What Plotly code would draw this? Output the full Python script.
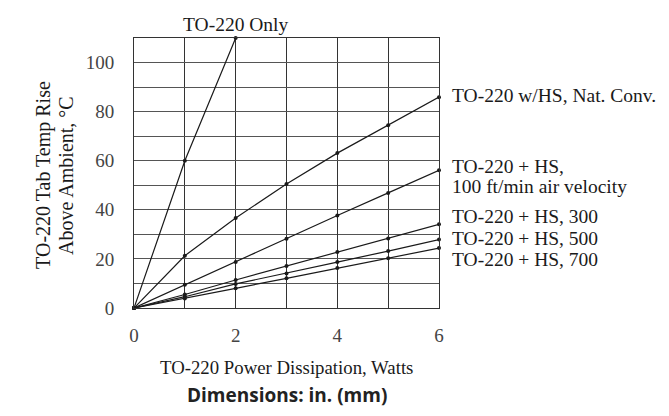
import plotly.graph_objects as go

power_w = [0, 1, 2, 3, 4, 5, 6]
to220_only_x = [0, 1, 2]
to220_only = [0, 60, 110]
nat_conv = [0, 21.3, 36.7, 50.5, 63.1, 74.5, 85.9]
hs_100 = [0, 9.5, 18.7, 28.2, 37.7, 46.9, 56.1]
hs_300 = [0, 5.5, 11.4, 17.1, 22.8, 28.3, 34.1]
hs_500 = [0, 4.6, 9.8, 14.1, 18.7, 23.2, 27.9]
hs_700 = [0, 3.9, 8.0, 12.1, 16.3, 20.3, 24.4]

series_labels = ["TO-220 w/HS, Nat. Conv.", "TO-220 + HS,", "100 ft/min air velocity",
                 "TO-220 + HS, 300", "TO-220 + HS, 500", "TO-220 + HS, 700"]
label_y = [86.4, 57.8, 49.7, 37.1, 28.5, 19.6]

x_ticks = [0, 2, 4, 6]
y_ticks = [0, 20, 40, 60, 80, 100]

SERIF = "Liberation Serif, Times New Roman, serif"
TXT = "#1a1a1a"
line = dict(color=TXT, width=1.2)
marker = dict(color=TXT, size=4)

fig = go.Figure()
fig.add_trace(go.Scatter(x=to220_only_x, y=to220_only, mode="lines+markers", line=line, marker=marker, cliponaxis=False))
for ys in [nat_conv, hs_100, hs_300, hs_500, hs_700]:
    fig.add_trace(go.Scatter(x=power_w, y=ys, mode="lines+markers", line=line, marker=marker, cliponaxis=False))

for text, yv in zip(series_labels, label_y):
    fig.add_annotation(x=1, xref="paper", y=yv, yref="y", text=text, showarrow=False,
                       xanchor="left", yanchor="middle", xshift=11, align="left",
                       font=dict(family=SERIF, size=19.5, color=TXT))

fig.add_annotation(x=2, xref="x", y=1, yref="paper", text="TO-220 Only", showarrow=False,
                   xanchor="center", yanchor="bottom", yshift=1,
                   font=dict(family=SERIF, size=19.5, color=TXT))

for text, xp in [("TO-220 Tab Temp Rise", -0.295), ("Above Ambient, °C", -0.223)]:
    fig.add_annotation(x=xp, xref="paper", y=0.493, yref="paper",
                       text=text, showarrow=False,
                       textangle=-90, xanchor="center", yanchor="middle",
                       font=dict(family=SERIF, size=20, color=TXT))

fig.add_annotation(x=0.5, xref="paper", y=-0.222, yref="paper",
                   text="TO-220 Power Dissipation, Watts", showarrow=False,
                   xanchor="center", yanchor="middle",
                   font=dict(family=SERIF, size=18.8, color=TXT))

fig.add_annotation(x=0.5, xref="paper", y=-0.322, yref="paper",
                   text="<b>Dimensions: in. (mm)</b>", showarrow=False,
                   xanchor="center", yanchor="middle",
                   font=dict(family="Open Sans, sans-serif", size=19, color="#222"))

fig.update_layout(
    width=661, height=408,
    margin=dict(l=126, r=230, t=30, b=108),
    paper_bgcolor="white", plot_bgcolor="white",
    showlegend=False,
    xaxis=dict(range=[0, 6], tickvals=x_ticks, showgrid=True, gridcolor="#333", gridwidth=1,
               minor=dict(dtick=1, showgrid=True, gridcolor="#333", gridwidth=1),
               showline=True, linecolor="#333", linewidth=1, mirror=True,
               zeroline=False, ticks="", ticklabelstandoff=10,
               tickfont=dict(family=SERIF, size=19, color="#444")),
    yaxis=dict(range=[0, 110], tickvals=y_ticks, showgrid=True, gridcolor="#555", gridwidth=1,
               minor=dict(dtick=10, showgrid=True, gridcolor="#555", gridwidth=1),
               showline=True, linecolor="#333", linewidth=1, mirror=True,
               zeroline=False, ticks="", ticklabelstandoff=15,
               tickfont=dict(family=SERIF, size=19, color="#444")),
)

fig.write_html("out.html")
